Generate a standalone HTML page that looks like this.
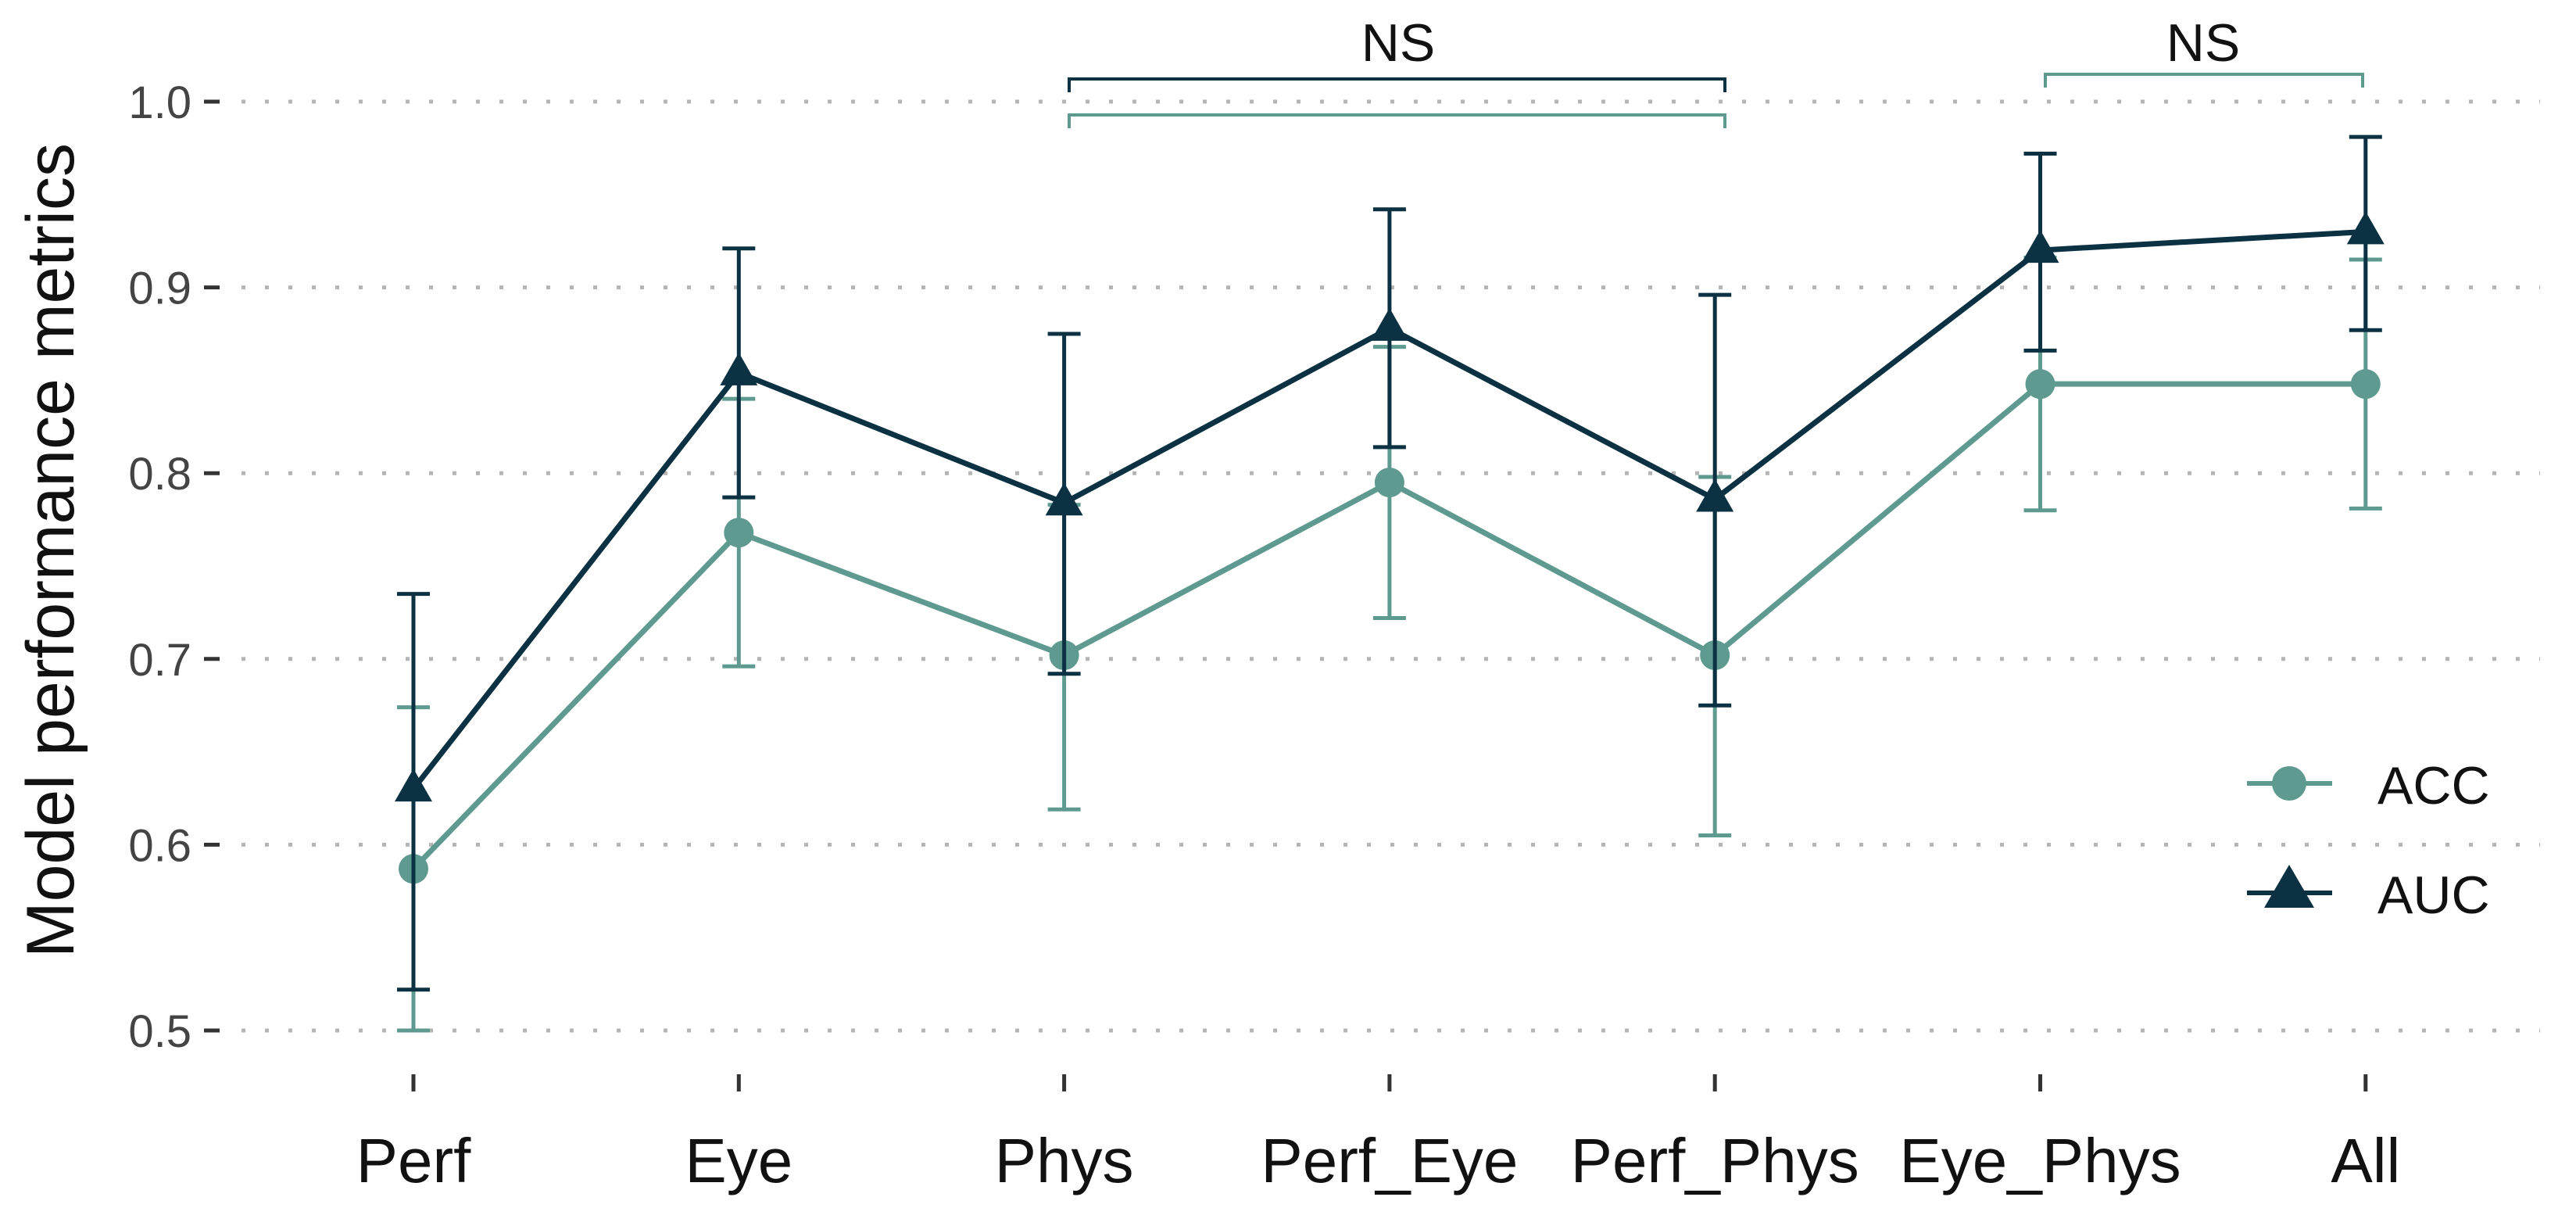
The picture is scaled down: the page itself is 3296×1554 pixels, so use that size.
<!DOCTYPE html>
<html><head><meta charset="utf-8"><style>
html,body{margin:0;padding:0;background:#fff;}
svg{display:block;font-family:"Liberation Sans",Arial,sans-serif;}
</style></head><body>
<svg id="chart" width="3296" height="1554" viewBox="0 0 3296 1554" xmlns="http://www.w3.org/2000/svg">
<g id="grid"></g>
<g id="yaxis"></g>
<g id="xaxis"></g>
<text transform="translate(94,704) rotate(-90)" text-anchor="middle" font-size="86" fill="#111">Model performance metrics</text>
<g>
<path d="M1368,118 V101 H2207 V118" fill="none" stroke="#0b3142" stroke-width="4"/>
<path d="M1368,164 V147 H2207 V164" fill="none" stroke="#5f9a90" stroke-width="4"/>
<text x="1789" y="78" text-anchor="middle" font-size="68" fill="#111">NS</text>
<path d="M2617,112 V95 H3023 V112" fill="none" stroke="#5f9a90" stroke-width="4"/>
<text x="2819" y="78" text-anchor="middle" font-size="68" fill="#111">NS</text>
</g>
<g id="series"></g>
<g>
<line x1="2875" y1="1002" x2="2984" y2="1002" stroke="#5f9a90" stroke-width="6"/>
<circle cx="2929" cy="1002" r="22" fill="#5f9a90"/>
<text x="3042" y="1028" font-size="68" fill="#111">ACC</text>
<line x1="2875" y1="1142" x2="2984" y2="1142" stroke="#0b3142" stroke-width="6"/>
<path d="M2929,1106 L2961,1161 L2897,1161 Z" fill="#0b3142"/>
<text x="3042" y="1168" font-size="68" fill="#111">AUC</text>
</g>
</svg>
<script>
const categories = ["Perf","Eye","Phys","Perf_Eye","Perf_Phys","Eye_Phys","All"];
const accValues = [0.587,0.768,0.702,0.795,0.702,0.848,0.848];
const accLow = [0.500,0.696,0.619,0.722,0.605,0.780,0.781];
const accHigh = [0.674,0.840,0.783,0.868,0.798,0.916,0.915];
const aucValues = [0.630,0.854,0.784,0.878,0.786,0.920,0.930];
const aucLow = [0.522,0.787,0.692,0.814,0.675,0.866,0.877];
const aucHigh = [0.735,0.921,0.875,0.942,0.896,0.972,0.981];
const yTicks = [0.5,0.6,0.7,0.8,0.9,1.0];
const yTickLabels = ["0.5","0.6","0.7","0.8","0.9","1.0"];

const NS = "http://www.w3.org/2000/svg";
function xPos(i){ return 529 + i*416.3; }
function yPos(v){ return 130 + (1 - v)/0.5*1188; }
function mk(tag, attrs, parent){
  const el = document.createElementNS(NS, tag);
  for (const k in attrs) el.setAttribute(k, attrs[k]);
  parent.appendChild(el);
  return el;
}
const grid = document.getElementById('grid');
const yaxis = document.getElementById('yaxis');
const xaxis = document.getElementById('xaxis');
const series = document.getElementById('series');

yTicks.forEach((t, i) => {
  const y = yPos(t);
  const g = mk('line', {x1:309, y1:y, x2:3250, y2:y, stroke:'#b5b5b5', 'stroke-width':5, 'stroke-dasharray':'5 25'}, grid);
  
  
  const tk = mk('line', {x1:261, y1:y, x2:281, y2:y, stroke:'#333', 'stroke-width':5}, yaxis);
  
  
  const lb = mk('text', {x:245, y:y+21, 'text-anchor':'end', 'font-size':58, fill:'#444'}, yaxis);
  lb.textContent = yTickLabels[i];
  
  
});

categories.forEach((c, i) => {
  const x = xPos(i);
  const tk = mk('line', {x1:x, y1:1374, x2:x, y2:1396, stroke:'#333', 'stroke-width':5}, xaxis);
  
  
  const lb = mk('text', {x:x, y:1512, 'text-anchor':'middle', 'font-size':80, fill:'#111'}, xaxis);
  lb.textContent = c;
  
  
});

function drawSeries(vals, lo, hi, color, shape, name){
  const g = mk('g', {}, series);
  
  
  vals.forEach((v, i) => {
    const x = xPos(i);
    const e = mk('path', {d:`M${x-21},${yPos(hi[i])} H${x+21} M${x},${yPos(hi[i])} V${yPos(lo[i])} M${x-21},${yPos(lo[i])} H${x+21}`, stroke:color, 'stroke-width':5, fill:'none'}, g);
    
    
  });
  const pts = vals.map((v, i) => xPos(i) + ',' + yPos(v)).join(' ');
  const pl = mk('polyline', {points:pts, fill:'none', stroke:color, 'stroke-width':7, 'stroke-linejoin':'round'}, g);
  
  
  vals.forEach((v, i) => {
    const x = xPos(i), y = yPos(v);
    let m;
    if (shape === 'circle') m = mk('circle', {cx:x, cy:y, r:19, fill:color}, g);
    else m = mk('path', {d:`M${x},${y-26} L${x+24},${y+16} L${x-24},${y+16} Z`, fill:color}, g);
    
    
  });
}
drawSeries(accValues, accLow, accHigh, '#5f9a90', 'circle', 'acc');
drawSeries(aucValues, aucLow, aucHigh, '#0b3142', 'triangle', 'auc');
</script>
</body></html>
